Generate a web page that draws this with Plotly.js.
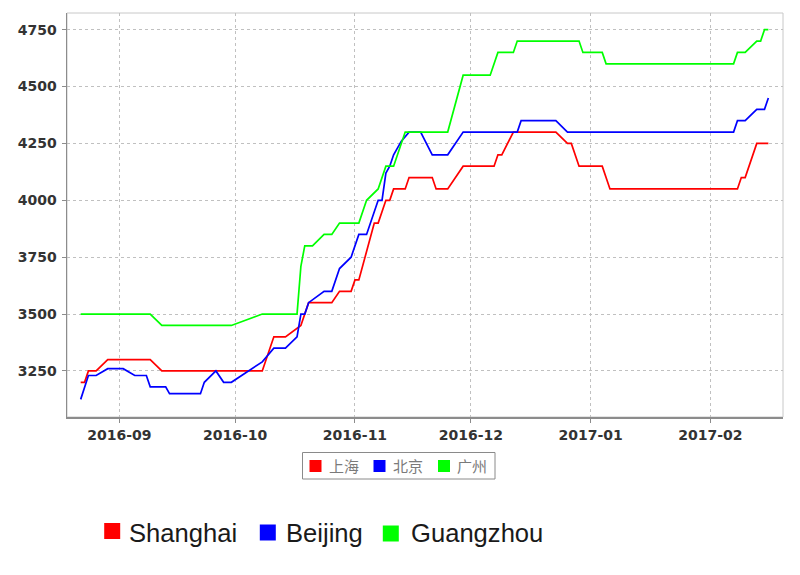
<!DOCTYPE html>
<html>
<head>
<meta charset="utf-8">
<script src="https://cdn.plot.ly/plotly-3.0.1.min.js"></script>
<style>html,body{margin:0;padding:0;background:#fff;}#chart{width:800px;height:575px;}</style>
</head>
<body>
<div id="chart"></div>
<script>
// ---- data ----
const seriesNamesCN = ["上海", "北京", "广州"];
const seriesNamesEN = ["Shanghai", "Beijing", "Guangzhou"];

const shanghaiDates = ["2016-08-22","2016-08-23","2016-08-24","2016-08-26","2016-08-29","2016-09-09","2016-09-12","2016-10-08","2016-10-11","2016-10-14","2016-10-18","2016-10-20","2016-10-26","2016-10-28","2016-10-31","2016-11-01","2016-11-02","2016-11-06","2016-11-07","2016-11-09","2016-11-10","2016-11-11","2016-11-14","2016-11-15","2016-11-21","2016-11-22","2016-11-25","2016-11-29","2016-12-07","2016-12-08","2016-12-09","2016-12-12","2016-12-23","2016-12-26","2016-12-27","2016-12-29","2017-01-04","2017-01-06","2017-02-08","2017-02-09","2017-02-10","2017-02-13","2017-02-16"];
const shanghaiValues = [3200,3200,3250,3250,3300,3300,3250,3250,3400,3400,3450,3550,3550,3600,3600,3650,3650,3900,3900,4000,4000,4050,4050,4100,4100,4050,4050,4150,4150,4200,4200,4300,4300,4250,4250,4150,4150,4050,4050,4100,4100,4250,4250];

const beijingDates = ["2016-08-22","2016-08-24","2016-08-26","2016-08-29","2016-09-02","2016-09-05","2016-09-08","2016-09-09","2016-09-13","2016-09-14","2016-09-22","2016-09-23","2016-09-26","2016-09-28","2016-09-30","2016-10-08","2016-10-11","2016-10-14","2016-10-17","2016-10-18","2016-10-19","2016-10-20","2016-10-24","2016-10-26","2016-10-28","2016-10-31","2016-11-02","2016-11-04","2016-11-07","2016-11-08","2016-11-09","2016-11-10","2016-11-11","2016-11-13","2016-11-15","2016-11-18","2016-11-21","2016-11-25","2016-11-29","2016-12-13","2016-12-14","2016-12-23","2016-12-26","2017-02-07","2017-02-08","2017-02-10","2017-02-13","2017-02-15","2017-02-16"];
const beijingValues = [3125,3230,3230,3260,3260,3230,3230,3180,3180,3150,3150,3200,3250,3200,3200,3290,3350,3350,3400,3500,3500,3550,3600,3600,3700,3750,3850,3850,4000,4000,4120,4150,4200,4260,4300,4300,4200,4200,4300,4300,4350,4350,4300,4300,4350,4350,4400,4400,4450];

const guangzhouDates = ["2016-08-22","2016-09-09","2016-09-12","2016-09-30","2016-10-08","2016-10-17","2016-10-18","2016-10-19","2016-10-21","2016-10-24","2016-10-26","2016-10-28","2016-11-02","2016-11-04","2016-11-07","2016-11-09","2016-11-11","2016-11-14","2016-11-25","2016-11-29","2016-12-06","2016-12-08","2016-12-12","2016-12-13","2016-12-29","2016-12-30","2017-01-04","2017-01-05","2017-02-07","2017-02-08","2017-02-10","2017-02-13","2017-02-14","2017-02-15","2017-02-16"];
const guangzhouValues = [3500,3500,3450,3450,3500,3500,3710,3800,3800,3850,3850,3900,3900,4000,4050,4150,4150,4300,4300,4550,4550,4650,4650,4700,4700,4650,4650,4600,4600,4650,4650,4700,4700,4750,4750];

const yTickValues = [3250, 3500, 3750, 4000, 4250, 4500, 4750];

// ---- styling ----
const colors = ["#ff0000", "#0000ff", "#00ff00"];
const W = 800, H = 575;
const M = {l: 67, r: 17, t: 13, b: 158};
const PW = W - M.l - M.r, PH = H - M.t - M.b;
const fx = x => (x - M.l) / PW;
const fy = y => (M.t + PH - y) / PH;

const allDates = [shanghaiDates, beijingDates, guangzhouDates];
const allValues = [shanghaiValues, beijingValues, guangzhouValues];

const traces = allDates.map((d, i) => ({
  type: "scatter", mode: "lines",
  x: d, y: allValues[i], name: seriesNamesCN[i],
  line: {color: colors[i], width: 1.7},
  hoverinfo: "skip", showlegend: false
}));

const shapes = [
  {type: "rect", xref: "paper", yref: "paper", x0: 0, x1: 1, y0: 0, y1: 1,
   line: {color: "#c8c8c8", width: 1}, layer: "below"},
  // chinese legend box
  {type: "rect", xref: "paper", yref: "paper", x0: fx(302.5), x1: fx(495), y0: fy(452.5), y1: fy(479),
   line: {color: "#8a8a8a", width: 1}, fillcolor: "#ffffff"}
];
const annotations = [];
const cnSquareX = [315.5, 379.5, 444];
const cnTextX = [327.5, 391.5, 456.5];
const legY = 466;
for (let i = 0; i < 3; i++) {
  shapes.push({type: "rect", xref: "paper", yref: "paper",
    x0: fx(cnSquareX[i] - 6), x1: fx(cnSquareX[i] + 6), y0: fy(legY + 6), y1: fy(legY - 6),
    line: {width: 0}, fillcolor: colors[i]});
  annotations.push({xref: "paper", yref: "paper", x: fx(cnTextX[i]), y: fy(legY),
    xanchor: "left", yanchor: "middle", showarrow: false, text: seriesNamesCN[i],
    font: {family: "Noto Sans CJK SC", size: 15, color: "#7a7a7a"}, borderpad: 0});
}
// english legend
const enSquareX = [112.2, 267.8, 390.8];
const enSquareY = [531, 532.5, 533.5];
const enTextX = [127.5, 284.5, 409.5];
const enTextY = 532.5;
for (let i = 0; i < 3; i++) {
  shapes.push({type: "rect", xref: "paper", yref: "paper",
    x0: fx(enSquareX[i] - 8), x1: fx(enSquareX[i] + 8), y0: fy(enSquareY[i] + 8), y1: fy(enSquareY[i] - 8),
    line: {width: 0}, fillcolor: colors[i]});
  annotations.push({xref: "paper", yref: "paper", x: fx(enTextX[i]), y: fy(enTextY),
    xanchor: "left", yanchor: "middle", showarrow: false, text: seriesNamesEN[i],
    font: {family: "Liberation Sans, Arial, sans-serif", size: 25.6, color: "#1a1a1a"}, borderpad: 0});
}

const tickFont = {family: "DejaVu Sans, sans-serif", size: 14, color: "#333333", weight: "bold"};
const layout = {
  width: W, height: H, margin: M,
  paper_bgcolor: "#ffffff", plot_bgcolor: "#ffffff",
  showlegend: false,
  xaxis: {
    type: "date", range: ["2016-08-18 11:00", "2017-02-19 19:00"],
    tick0: "2016-09-01", dtick: "M1", tickformat: "%Y-%m",
    showgrid: true, gridcolor: "#c0c0c0", gridwidth: 1, griddash: "3px,3px",
    showline: true, linecolor: "#8c8c8c", linewidth: 1.5,
    ticks: "outside", ticklen: 4, tickcolor: "#8c8c8c", tickwidth: 1,
    ticklabelstandoff: 1,
    tickfont: tickFont, zeroline: false, fixedrange: true
  },
  yaxis: {
    range: [3047.5, 4823.5], tickmode: "array", tickvals: yTickValues,
    ticktext: yTickValues.map(String),
    showgrid: true, gridcolor: "#c0c0c0", gridwidth: 1, griddash: "3px,3px",
    showline: true, linecolor: "#8c8c8c", linewidth: 1.5,
    ticks: "outside", ticklen: 4, tickcolor: "#8c8c8c", tickwidth: 1,
    ticklabelstandoff: 2,
    tickfont: tickFont, zeroline: false, fixedrange: true
  },
  shapes: shapes,
  annotations: annotations
};

Plotly.newPlot("chart", traces, layout, {staticPlot: true, displayModeBar: false});
</script>
</body>
</html>
